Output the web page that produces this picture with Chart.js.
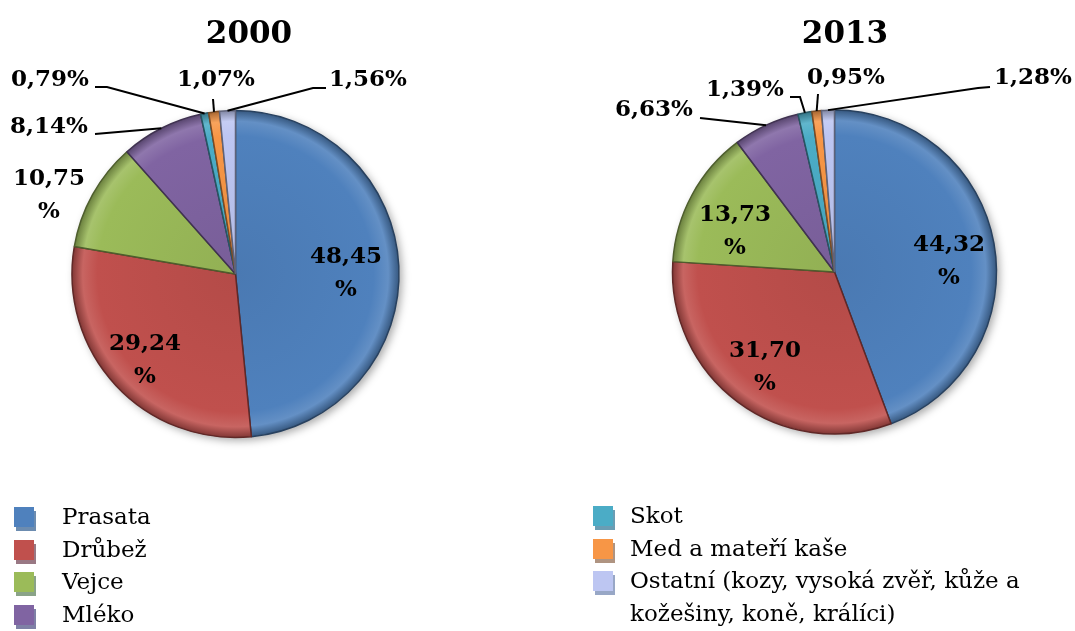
<!DOCTYPE html>
<html><head><meta charset="utf-8">
<script src="https://cdn.jsdelivr.net/npm/chart.js@4.4.1/dist/chart.umd.min.js"></script>
<style>
html,body{margin:0;padding:0;background:#fff;width:1075px;height:631px;overflow:hidden;}
canvas{position:absolute;left:0;top:0;}
.title{position:absolute;top:32px;font:bold 31px "DejaVu Serif";transform:translate(-50%,-50%);white-space:nowrap;color:#000;}
.legend{position:absolute;font:23px "DejaVu Serif";line-height:32.5px;color:#000;}
.item{position:relative;}
.mark{position:absolute;left:0;top:7px;width:20px;height:20px;}
.txt{display:block;}
</style>
</head><body>
<canvas id="c2000" width="1075" height="631"></canvas>
<canvas id="c2013" width="1075" height="631"></canvas>
<div class="title" id="t2000" style="left:249px"></div>
<div class="title" id="t2013" style="left:845px"></div>
<div class="legend" id="legL" style="left:14px;top:500px;width:300px"></div>
<div class="legend" id="legR" style="left:593px;top:499px;width:482px"></div>
<script>
// ---- data ----
const categories = ['Prasata','Drůbež','Vejce','Mléko','Skot','Med a mateří kaše','Ostatní (kozy, vysoká zvěř, kůže a kožešiny, koně, králíci)'];
const values2000 = [48.45, 29.24, 10.75, 8.14, 0.79, 1.07, 1.56];
const values2013 = [44.32, 31.70, 13.73, 6.63, 1.39, 0.95, 1.28];
const years = ['2000', '2013'];

// ---- styles / layout ----
const colors = ['#4F81BD','#C0504D','#9BBB59','#8064A2','#4BACC6','#F79646','#BDC6F2'];
const legendLeft = [0,1,2,3];
const legendRight = [4,5,6];

const layout2000 = {
  cx: 235.5, cy: 274, r: 163.5,
  labels: [
    {two:true, x:346, y:273},
    {two:true, x:145, y:360},
    {two:true, x:49, y:195},
    {x:49, y:127, line:[[95,134]]},
    {x:50, y:80, line:[[95,87],[107,87]]},
    {x:216, y:80, line:[[213,99]]},
    {x:368, y:80, line:[[326,88],[313,88]]}
  ]
};
const layout2013 = {
  cx: 834.5, cy: 272, r: 162,
  labels: [
    {two:true, x:949, y:261},
    {two:true, x:765, y:367},
    {two:true, x:735, y:231},
    {x:654, y:110, line:[[700,118]]},
    {x:745, y:90, line:[[790,97],[800,97]]},
    {x:846, y:78, line:[[818,94]]},
    {x:1033, y:78, line:[[990,87],[978,88]]}
  ]
};

function hexToRgb(h){const n=parseInt(h.slice(1),16);return [(n>>16)&255,(n>>8)&255,n&255];}
function mix(h,t,f){const a=hexToRgb(h),b=hexToRgb(t);return 'rgb('+a.map((v,i)=>Math.round(v+(b[i]-v)*f)).join(',')+')';}

function bgFill(c){
  const color=colors[c.dataIndex % colors.length];
  const chart=c.chart, ca=chart.chartArea;
  if(!ca) return color;
  const cx=(ca.left+ca.right)/2, cy=(ca.top+ca.bottom)/2;
  const r=Math.min(ca.right-ca.left, ca.bottom-ca.top)/2;
  const g=chart.ctx.createRadialGradient(cx,cy,0,cx,cy,r);
  g.addColorStop(0, mix(color,'#000000',0.06));
  g.addColorStop(0.84, color);
  g.addColorStop(0.93, mix(color,'#ffffff',0.12));
  g.addColorStop(1, mix(color,'#000000',0.35));
  return g;
}

const shadowPlugin = {
  id:'shadow',
  beforeDatasetsDraw(chart){
    const a=chart.getDatasetMeta(0).data[0]; if(!a) return;
    const ctx=chart.ctx; ctx.save();
    ctx.shadowColor='rgba(0,0,0,0.35)'; ctx.shadowBlur=9; ctx.shadowOffsetX=3; ctx.shadowOffsetY=3;
    ctx.beginPath(); ctx.arc(a.x,a.y,a.outerRadius,0,Math.PI*2); ctx.fillStyle='#fff'; ctx.fill();
    ctx.restore();
  }
};

function fmt(v){return v.toFixed(2).replace('.',',');}

const labelPlugin = {
  id:'pieLabels',
  afterDatasetsDraw(chart, args, opts){
    const ctx=chart.ctx, meta=chart.getDatasetMeta(0), vals=chart.data.datasets[0].data;
    ctx.save();
    ctx.font='bold 23px "DejaVu Serif"'; ctx.fillStyle='#000'; ctx.textAlign='center'; ctx.textBaseline='middle';
    ctx.strokeStyle='#000'; ctx.lineWidth=2;
    opts.labels.forEach((L,i)=>{
      const arc=meta.data[i];
      const p=arc.getProps(['x','y','startAngle','endAngle','outerRadius'],true);
      if(L.line){
        const mid=(p.startAngle+p.endAngle)/2;
        const ex=p.x+Math.cos(mid)*p.outerRadius, ey=p.y+Math.sin(mid)*p.outerRadius;
        ctx.beginPath(); ctx.moveTo(L.line[0][0],L.line[0][1]);
        for(let k=1;k<L.line.length;k++) ctx.lineTo(L.line[k][0],L.line[k][1]);
        ctx.lineTo(ex,ey); ctx.stroke();
      }
      if(L.two){
        ctx.fillText(fmt(vals[i]), L.x, L.y-16);
        ctx.fillText('%', L.x, L.y+17);
      } else {
        ctx.fillText(fmt(vals[i])+'%', L.x, L.y);
      }
    });
    ctx.restore();
  }
};

function makeChart(id, values, lay){
  const bw=1.5, R=lay.r+bw/2;
  return new Chart(document.getElementById(id), {
    type:'pie',
    data:{labels:categories, datasets:[{data:values,
      backgroundColor:bgFill,
      borderColor:colors.map(c=>mix(c,'#000000',0.5)),
      borderWidth:bw}]},
    options:{
      responsive:false, animation:false, events:[],
      layout:{padding:{left:lay.cx-R, right:1075-lay.cx-R, top:lay.cy-R, bottom:631-lay.cy-R}},
      plugins:{legend:{display:false}, tooltip:{enabled:false}, title:{display:false},
        pieLabels:{labels:lay.labels}}
    },
    plugins:[shadowPlugin, labelPlugin]
  });
}
makeChart('c2000', values2000, layout2000);
makeChart('c2013', values2013, layout2013);

document.getElementById('t2000').textContent=years[0];
document.getElementById('t2013').textContent=years[1];

function buildLegend(el, idxs, textLeft){
  idxs.forEach(i=>{
    const it=document.createElement('div'); it.className='item';
    const m=document.createElement('span'); m.className='mark';
    m.style.background=colors[i];
    m.style.boxShadow='2px 4px 0 '+mix(colors[i],'#7f93a8',0.6);
    const t=document.createElement('span'); t.className='txt'; t.style.marginLeft=textLeft+'px';
    t.textContent=categories[i];
    it.appendChild(m); it.appendChild(t); el.appendChild(it);
  });
}
buildLegend(document.getElementById('legL'), legendLeft, 48);
buildLegend(document.getElementById('legR'), legendRight, 37);
</script>
</body></html>
